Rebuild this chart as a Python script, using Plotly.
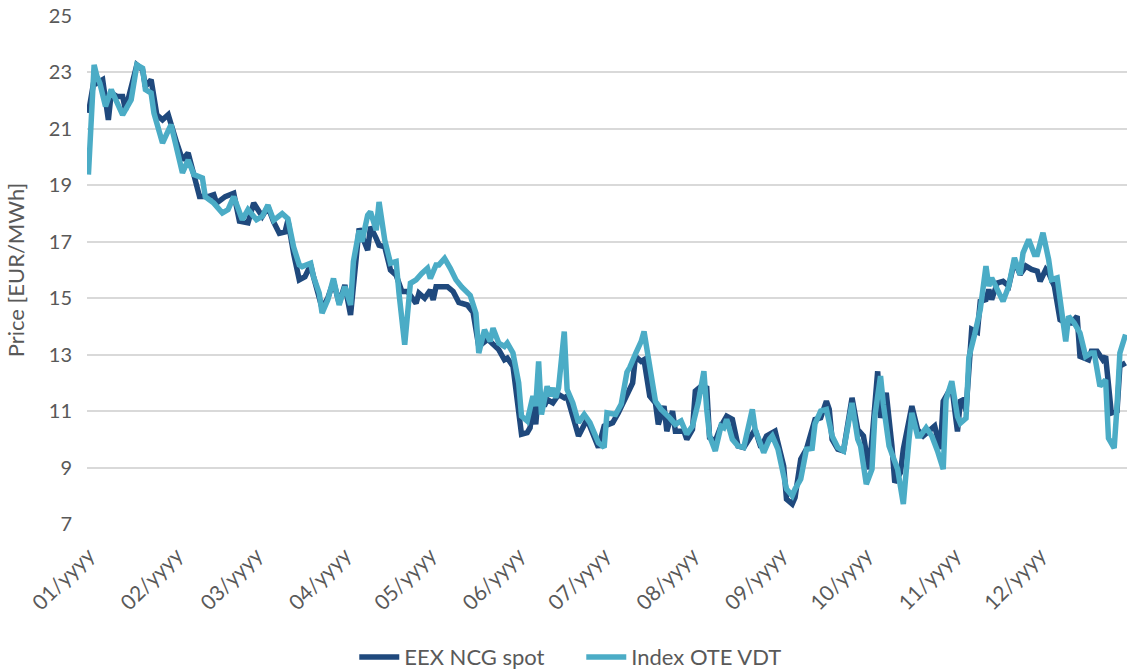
import plotly.graph_objects as go

# Day of year (0 = 1 January) and prices
ncg_day = [0, 2, 3, 5, 7, 8, 10, 12, 13, 17, 19, 20, 22, 24, 26, 28, 31, 33, 35, 37, 39, 42, 44, 45, 48, 51, 53, 56, 58,
           61, 63, 65, 67, 69, 70, 72, 74, 76, 78, 79, 82, 84, 86, 88, 90, 92, 94, 95, 98, 99, 101, 102, 104, 106, 108,
           110, 112, 115, 116, 118, 120, 121, 122, 126, 128, 130, 133, 135, 137, 140, 141, 144, 146, 147, 149, 151, 152,
           154, 155, 156, 157, 158, 160, 161, 163, 165, 167, 168, 171, 172, 175, 177, 179, 181, 184, 186, 189, 191, 192,
           194, 195, 197, 199, 200, 202, 203, 205, 206, 209, 210, 212, 213, 215, 217, 218, 220, 222, 224, 226, 228, 230,
           232, 234, 236, 238, 241, 243, 244, 245, 247, 248, 250, 252, 254, 255, 257, 259, 260, 261, 263, 265, 268, 270,
           272, 274, 275, 277, 278, 280, 282, 283, 285, 286, 289, 291, 293, 295, 297, 299, 300, 303, 305, 306, 307, 308,
           310, 312, 313, 315, 316, 317, 319, 321, 323, 325, 327, 329, 331, 333, 334, 336, 337, 339, 341, 343, 345, 347,
           348, 351, 352, 354, 356, 357, 359, 361, 362, 364]
ncg_price = [21.56, 22.74, 22.62, 22.74, 21.32, 22.27, 22.15, 22.15, 21.68, 23.27, 23.1, 22.5, 22.74, 21.5, 21.32, 21.5,
             20.5, 19.9, 20.15, 19.38, 18.6, 18.6, 18.67, 18.37, 18.6, 18.72, 17.73, 17.67, 18.37,
             17.9, 18.24, 17.7, 17.3, 17.35, 17.76, 16.59, 15.65, 15.76, 16.18, 15.76, 14.65, 15.0, 15.59, 14.82, 15.47,
             14.41, 16.24, 17.47, 16.7, 17.53, 17.12, 16.88, 16.82, 16.0, 15.82,
             15.24, 15.24, 14.82, 15.18, 15.0, 15.29, 14.94, 15.41, 15.41, 15.24, 14.85, 14.76, 14.5, 13.29, 13.53, 13.47,
             13.18, 12.82, 12.88, 12.59, 10.94, 10.18,
             10.24, 10.41, 11.18, 10.53, 11.76, 11.18, 11.41, 11.29, 11.59, 11.47, 11.53, 10.41, 10.12, 10.71, 10.24, 9.71,
             10.47, 10.59, 10.94, 11.53, 12.0, 12.94,
             12.76, 12.82, 11.53, 11.29, 10.53, 11.18, 10.29, 11.0, 10.29, 10.29, 10.0, 10.35, 11.71, 11.88, 11.82, 10.06,
             9.94, 10.47, 10.82, 10.71, 9.76, 9.71,
             10.0, 10.35, 9.71, 10.12, 10.29, 9.41, 9.06, 7.88, 7.71, 7.94, 9.3, 9.65, 10.4, 10.7, 10.76, 11.35, 11.06,
             10.0, 9.65, 9.59, 11.47, 10.35,
             10.12, 8.94, 10.0, 12.41, 10.76, 11.65, 9.76, 8.47, 8.82, 9.65, 11.18, 10.35, 10.12, 10.29, 10.47, 9.65, 11.35,
             11.88, 10.28, 11.35, 11.4, 11.0,
             13.9, 13.8, 14.89, 14.95, 15.31, 14.95, 15.54, 15.6, 15.43, 16.31, 15.84, 16.14, 16.02, 15.96, 15.6, 16.02,
             15.9, 15.43, 14.24, 14.12, 14.12, 14.36,
             12.94, 12.82, 13.12, 13.12, 12.82, 12.94, 10.93, 11.0, 12.59, 12.71]

ote_day = [0, 2, 3, 4, 6, 8, 12, 15, 17, 19, 20, 22, 23, 26, 29, 31, 33, 35, 37, 40, 41, 44, 47, 49, 51, 54, 56, 59,
           61, 63, 65, 68, 70, 72, 74, 75, 78, 79, 81, 82, 84, 86, 88, 90, 92, 93, 95, 96, 98, 99, 101, 102, 104, 106,
           108, 109, 111, 113, 115, 117, 119, 120, 122, 123, 125, 127, 129, 131, 134, 136, 137, 139, 141, 142, 144, 146,
           147, 149, 151, 152, 154, 156, 157, 158, 159, 161, 162, 163, 164, 165, 167, 168, 170, 172, 174, 176, 178, 179,
           181, 182, 185, 187, 189, 190, 192, 194, 195, 196, 198, 199, 201, 203, 204, 206, 208, 210, 212, 214, 216, 217,
           218, 220, 222, 223, 224, 226, 228, 230, 231, 233, 234, 237, 239, 240, 242, 244, 245, 247, 248, 250, 252, 254,
           255, 257, 259, 261, 263, 265, 268, 270, 271, 273, 275, 276, 278, 279, 281, 284, 286, 288, 289, 291, 292, 294,
           296, 298, 300, 301, 303, 305, 306, 308, 309, 311, 312, 313, 315, 316, 317, 319, 321, 323, 325, 327, 328, 330,
           332, 333, 335, 337, 338, 340, 341, 343, 344, 346, 348, 350, 352, 353, 355, 357, 358, 360, 361, 362, 364]
ote_price = [19.38, 23.27, 22.86, 22.62, 21.8, 22.39, 21.5, 22.03, 23.27, 23.15, 22.39, 22.27, 21.56, 20.5, 21.15, 20.26,
             19.44, 19.9, 19.38, 19.26, 18.6, 18.37, 18.02, 18.14, 18.6, 17.78, 18.14, 17.78,
             17.9, 18.3, 17.76, 18.0, 17.82, 16.82, 16.18, 16.12, 16.24, 15.76, 15.18, 14.47, 14.94, 15.7, 14.76, 15.41,
             14.76, 16.3, 17.4, 17.0, 17.94, 18.06, 17.41, 18.41, 17.06, 16.24,
             16.3, 15.18, 13.35, 15.53, 15.65, 15.88, 16.06, 15.7, 16.18, 16.18, 16.41, 16.06, 15.65, 15.4, 15.1, 14.47,
             13.06, 13.88, 13.47, 13.94, 13.41, 13.29,
             13.41, 13.06, 12.0, 10.82, 10.65, 11.53, 11.18, 12.76, 10.88, 11.88, 11.53, 11.82, 11.47, 11.82, 13.82, 11.76,
             11.29, 10.59, 10.88, 10.59, 10.12, 9.88,
             9.71, 10.94, 10.88, 11.25, 12.38, 12.55, 13.03, 13.47, 13.82, 13.18, 11.76, 11.35, 11.06, 10.88, 10.76, 10.53,
             10.65, 10.18, 10.47, 11.29, 12.41, 11.06,
             10.12, 9.59, 10.47, 10.41, 10.71, 10.0, 9.76, 9.71, 10.12, 11.06, 10.35, 9.53, 10.0, 10.12, 9.65, 8.71, 8.24,
             8.0, 8.24, 8.59, 9.65, 9.68,
             10.55, 11.0, 11.06, 10.12, 9.71, 9.59, 11.29, 10.0, 9.76, 8.41, 8.94, 10.82, 12.24, 11.24, 9.76, 8.94, 7.71,
             10.0, 10.94, 10.12, 10.12, 10.41,
             10.12, 9.59, 8.94, 11.41, 12.06, 10.81, 10.57, 10.75, 12.9, 13.7, 14.2, 14.6, 16.14, 15.43, 15.72, 15.25,
             14.89, 15.43, 16.43, 15.84, 16.6, 17.08,
             16.55, 16.55, 17.32, 16.37, 15.66, 15.72, 14.83, 13.47, 14.36, 14.12, 13.77, 12.94, 13.06, 13.06, 11.88, 12.11,
             10.04, 9.69, 11.17, 13.06, 13.71]

month_start_day = [0, 31, 59, 90, 120, 151, 181, 212, 243, 273, 304, 334]
month_labels = ["01/yyyy", "02/yyyy", "03/yyyy", "04/yyyy", "05/yyyy", "06/yyyy",
                "07/yyyy", "08/yyyy", "09/yyyy", "10/yyyy", "11/yyyy", "12/yyyy"]
y_ticks = [7, 9, 11, 13, 15, 17, 19, 21, 23, 25]

DARK = "#1F497D"
LIGHT = "#4BACC6"
TXT = "#595959"
FONT = "Lato, 'Open Sans', sans-serif"

fig = go.Figure()
fig.add_trace(go.Scatter(x=ncg_day, y=ncg_price, mode="lines", name="EEX NCG spot",
                         line=dict(color=DARK, width=5.5)))
fig.add_trace(go.Scatter(x=ote_day, y=ote_price, mode="lines", name="Index OTE VDT",
                         line=dict(color=LIGHT, width=5.5)))

fig.update_layout(
    width=1127, height=671,
    margin=dict(l=87, r=0, t=16, b=147, autoexpand=False),
    paper_bgcolor="white", plot_bgcolor="white",
    font=dict(family=FONT, size=20, color=TXT),
    showlegend=True,
    legend=dict(orientation="h", x=0.257, xanchor="left", y=-0.262, yanchor="middle",
                font=dict(size=22, color=TXT), itemwidth=40, tracegroupgap=0,
                entrywidth=172, entrywidthmode="pixels"),
)
fig.update_xaxes(range=[-0.5, 364.5], tickmode="array", tickvals=month_start_day, ticktext=month_labels,
                 tickangle=-45, showgrid=False, zeroline=False, showline=False, ticks="", automargin=False,
                 tickfont=dict(size=21, color=TXT), ticklabelstandoff=14)
fig.update_yaxes(range=[7, 25], tickmode="array", tickvals=y_ticks, showgrid=True, gridcolor="#D9D9D9",
                 gridwidth=1.5, zeroline=False, showline=False, ticks="", automargin=False,
                 tickfont=dict(size=20, color=TXT), ticklabelstandoff=14,
                 title=dict(text="Price [EUR/MWh]", font=dict(size=22, color=TXT), standoff=18))

fig.write_html("out.html")
